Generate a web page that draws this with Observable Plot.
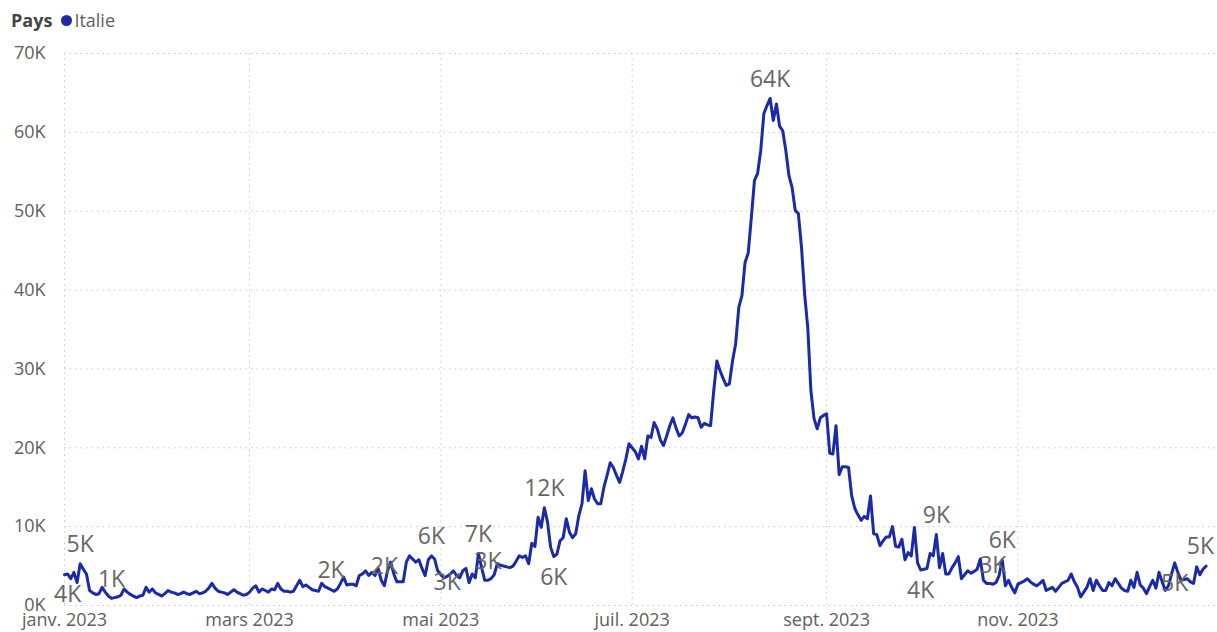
<!DOCTYPE html>
<html>
<head>
<meta charset="utf-8">
<script src="https://cdn.jsdelivr.net/npm/d3@7"></script>
<script src="https://cdn.jsdelivr.net/npm/@observablehq/plot@0.6"></script>
<style>
  html, body { margin: 0; padding: 0; background: #fff; }
  body { font-family: "Segoe UI", "Open Sans", "Noto Sans", sans-serif; width: 1217px; }
  #legend { height: 40px; display: flex; align-items: center; padding-left: 11px; font-size: 18px; color: #605E5C; }
  #legend b { color: #444; font-weight: 700; margin-right: 9px; }
  #legend .dot { display: inline-block; width: 11px; height: 11px; border-radius: 50%; background: #1a2aa8; margin-right: 2px; }
  #chart svg { display: block; }
</style>
</head>
<body>
<div id="legend"><b>Pays</b><span class="dot"></span><span>Italie</span></div>
<div id="chart"></div>
<script>
// Daily values (thousands) for 2023, one array per month
const valuesJan = [3.9, 4.0, 3.4, 4.2, 2.9, 5.3, 4.6, 4.0, 1.9, 1.6, 1.4, 1.5, 2.3, 1.7, 1.2, 0.9, 1.0, 1.1, 1.3, 2.1, 1.7, 1.4, 1.2, 1.0, 1.2, 1.3, 2.3, 1.7, 2.1, 1.6, 1.4];
const valuesFeb = [1.2, 1.5, 1.9, 1.7, 1.6, 1.4, 1.5, 1.7, 1.5, 1.4, 1.6, 1.8, 1.5, 1.6, 1.8, 2.2, 2.8, 2.2, 1.8, 1.7, 1.6, 1.4, 1.7, 2.0, 1.7, 1.5, 1.3, 1.4];
const valuesMar = [1.7, 2.2, 2.5, 1.7, 2.1, 1.9, 1.7, 2.1, 2.0, 2.8, 2.1, 1.8, 1.8, 1.7, 1.8, 2.5, 3.2, 2.4, 2.6, 2.3, 2.0, 1.9, 1.8, 2.8, 2.4, 2.2, 2.0, 1.8, 2.1, 2.8, 3.6];
const valuesApr = [2.6, 2.7, 2.7, 2.5, 3.8, 4.0, 4.4, 3.8, 4.2, 3.8, 4.7, 3.2, 2.5, 4.4, 5.5, 4.0, 3.0, 3.0, 3.0, 5.5, 6.3, 5.9, 5.5, 5.8, 4.7, 3.8, 5.8, 6.3, 5.9, 4.4];
const valuesMay = [3.9, 3.5, 3.7, 4.0, 4.4, 3.8, 3.5, 4.4, 4.7, 2.9, 4.0, 3.5, 6.6, 4.8, 3.2, 3.2, 3.4, 3.9, 5.3, 5.1, 5.0, 4.9, 4.8, 5.0, 5.6, 6.3, 6.1, 6.3, 5.3, 7.9, 7.5];
const valuesJun = [11.2, 9.9, 12.4, 10.6, 7.4, 6.2, 6.5, 8.2, 8.6, 11.0, 9.3, 8.6, 9.1, 11.4, 12.9, 17.1, 13.3, 14.8, 13.5, 12.9, 12.9, 15.0, 16.5, 18.1, 17.5, 16.5, 15.6, 17.0, 18.6, 20.5];
const valuesJul = [20.0, 19.5, 18.6, 20.2, 18.6, 21.5, 21.3, 23.2, 22.4, 21.0, 20.3, 21.5, 22.8, 23.8, 22.5, 21.5, 21.9, 23.0, 24.2, 23.8, 23.9, 23.8, 22.6, 23.1, 22.9, 22.8, 27.2, 31.0, 29.8, 28.8, 27.9];
const valuesAug = [28.1, 31.0, 33.2, 37.8, 39.3, 43.5, 44.7, 49.2, 53.9, 54.8, 57.7, 62.4, 63.4, 64.3, 61.5, 63.6, 60.8, 60.2, 57.7, 54.5, 53.0, 50.1, 49.7, 45.4, 39.5, 35.2, 27.2, 23.7, 22.4, 23.8, 24.1];
const valuesSep = [24.3, 19.3, 19.2, 22.8, 16.6, 17.6, 17.6, 17.5, 13.9, 12.3, 11.5, 10.8, 11.3, 11.0, 13.9, 9.1, 9.0, 7.6, 8.2, 8.7, 8.7, 10.0, 7.5, 7.4, 8.4, 5.8, 6.7, 6.3, 9.9, 5.4];
const valuesOct = [4.5, 4.6, 4.7, 6.6, 6.3, 9.0, 4.8, 6.6, 4.0, 4.0, 4.8, 5.4, 6.2, 3.4, 3.9, 4.4, 4.1, 4.3, 4.6, 5.9, 3.2, 2.8, 2.8, 2.7, 2.9, 3.8, 5.8, 2.5, 3.2, 2.3, 1.6];
const valuesNov = [2.7, 2.9, 3.1, 3.4, 3.0, 2.7, 2.5, 2.8, 3.2, 1.9, 2.1, 2.3, 1.8, 2.3, 2.8, 3.0, 3.2, 4.0, 3.0, 2.3, 1.1, 1.7, 2.3, 3.4, 1.9, 3.2, 2.5, 1.9, 1.9, 2.9];
const valuesDec = [2.5, 3.4, 2.8, 2.2, 1.9, 1.8, 3.2, 2.3, 4.2, 2.6, 2.2, 1.5, 2.4, 3.2, 2.2, 4.2, 3.0, 1.9, 2.5, 4.0, 5.4, 4.2, 3.2, 3.3, 3.4, 3.0, 2.8, 4.9, 3.9, 4.6, 5.0];

const startDate = "2023-01-01";

// Axis ticks
const xTickDates = ["2023-01-01", "2023-03-01", "2023-05-01", "2023-07-01", "2023-09-01", "2023-11-01"];
const xTickLabels = ["janv. 2023", "mars 2023", "mai 2023", "juil. 2023", "sept. 2023", "nov. 2023"];
const yTicks = [0, 10, 20, 30, 40, 50, 60, 70];
const yTickLabels = ["0K", "10K", "20K", "30K", "40K", "50K", "60K", "70K"];

// Data labels
const labelDates = ["2023-01-02","2023-01-06","2023-01-16","2023-03-27","2023-04-13","2023-04-28","2023-05-03","2023-05-13","2023-05-16","2023-06-03","2023-06-06","2023-08-14","2023-10-01","2023-10-06","2023-10-24","2023-10-27","2023-12-21","2023-12-31"];
const labelTexts = ["4K","5K","1K","2K","2K","6K","3K","7K","3K","12K","6K","64K","4K","9K","3K","6K","5K","5K"];
const labelSides = ["below","above","above","above","above","above","on","above","above","above","below","above","below","above","above","above","below","aboveEnd"];

// Build tables
const allValues = [].concat(valuesJan, valuesFeb, valuesMar, valuesApr, valuesMay, valuesJun,
                            valuesJul, valuesAug, valuesSep, valuesOct, valuesNov, valuesDec);
const t0 = new Date(startDate);
const data = allValues.map((v, i) => ({ date: d3.utcDay.offset(t0, i), value: v }));
const byTime = new Map(data.map(d => [+d.date, d.value]));
const labels = labelDates.map((s, i) => {
  const date = new Date(s);
  return { date, value: byTime.get(+date), text: labelTexts[i], side: labelSides[i] };
});
const xTicks = xTickDates.map(s => new Date(s));
const xFmt = new Map(xTicks.map((d, i) => [+d, xTickLabels[i]]));
const yFmt = new Map(yTicks.map((d, i) => [d, yTickLabels[i]]));

const gridStyle = { stroke: "#c8c8c8", strokeOpacity: 1, strokeDasharray: "1.5,4", strokeWidth: 1 };
const labelStyle = { x: "date", y: "value", text: "text", fontSize: 23, fill: "#666" };

const chart = Plot.plot({
  width: 1217,
  height: 592,
  marginLeft: 64,
  marginRight: 2,
  marginTop: 13,
  marginBottom: 27,
  style: { fontFamily: '"Segoe UI", "Open Sans", "Noto Sans", sans-serif', fontSize: "18px", color: "#605E5C", background: "#fff" },
  x: { type: "utc", domain: [t0, new Date("2024-01-03")] },
  y: { domain: [0, 70] },
  marks: [
    Plot.gridX(xTicks, gridStyle),
    Plot.gridY(yTicks, gridStyle),
    Plot.axisX(xTicks, { tickSize: 0, tickPadding: 8, tickFormat: d => xFmt.get(+d), label: null, fill: "#605E5C", fontSize: 18 }),
    Plot.axisY(yTicks, { tickSize: 0, tickPadding: 19, tickFormat: d => yFmt.get(d), label: null, fill: "#605E5C", fontSize: 18 }),
    Plot.lineY(data, { x: "date", y: "value", stroke: "#1a2aa8", strokeWidth: 3, curve: "linear" }),
    Plot.text(labels.filter(d => d.side === "above"), { ...labelStyle, dy: -19 }),
    Plot.text(labels.filter(d => d.side === "below"), { ...labelStyle, dy: 21 }),
    Plot.text(labels.filter(d => d.side === "on"), { ...labelStyle, dy: 6 }),
    Plot.text(labels.filter(d => d.side === "aboveEnd"), { ...labelStyle, dy: -19, dx: 8, textAnchor: "end" })
  ]
});
document.getElementById("chart").appendChild(chart);
</script>
</body>
</html>
